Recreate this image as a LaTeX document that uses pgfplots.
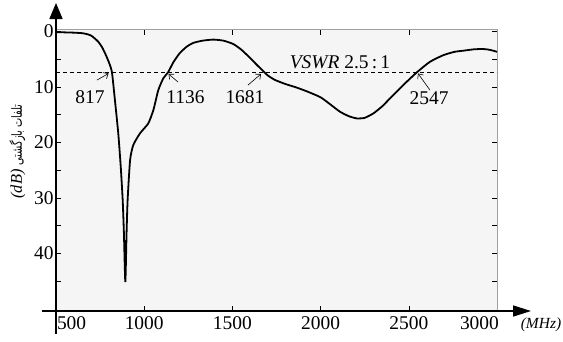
\documentclass[border=0pt]{standalone}
\usepackage{pgfplots}
\pgfplotsset{compat=1.18}
\usepackage{fontspec}
\setmainfont{Liberation Serif}
\newfontfamily\persianfont[Script=Arabic]{DejaVu Sans}
\usetikzlibrary{arrows.meta}
\TeXXeTstate=1
\definecolor{bgc}{HTML}{F5F5F5}
\definecolor{framec}{HTML}{A0A0A0}
\begin{document}
\begin{tikzpicture}[x=1bp,y=1bp]
\begin{axis}[
  at={(56bp,30bp)}, anchor=south west,
  scale only axis, width=441bp, height=281.4bp,
  xmin=500, xmax=3000, ymin=-0.3, ymax=50.4, y dir=reverse,
  axis background/.style={fill=bgc},
  axis line style={draw=framec, line width=0.8bp},
  xtick={500,1000,1500,2000,2500,3000},
  xticklabels={\makebox[0pt][l]{\kern1bp 500},1000,1500,2000,2500,\makebox[0pt][l]{\kern-37bp 3000}},
  ytick={0,10,20,30,40}, minor ytick={5,15,25,35,45},
  tick align=inside, major tick length=5bp, minor tick length=5bp,
  tick style={black, line width=0.5bp},
  ticklabel style={font=\fontsize{19.5}{22}\selectfont},
  xticklabel style={yshift=-2bp},
  yticklabel style={xshift=1bp},
  /pgf/number format/assume math mode=true,
  /pgf/number format/set thousands separator={},
]
\addplot[black, line width=0.6bp, dash pattern=on 4bp off 3bp] coordinates {(500,7.36) (3000,7.36)};
\addplot[black, line width=1.8bp, smooth, tension=0.35] coordinates {
(500,0.15) (550,0.2) (600,0.25) (650,0.35) (680,0.55) (700,0.8) (720,1.3) (740,1.9)
(760,2.8) (780,4.1) (800,5.6) (817,7.36) (834,12.4) (853,18.4) (867,24.4)
(878,30.4) (885,36.4) (893,45.2) (900,36.4) (906,30.4) (920,23.2) (938,20.5)
(976,18.4) (1023,16.6) (1052,14.2) (1080,10.6) (1108,8.5) (1136,7.36) (1165,5.6)
(1200,4.0) (1240,2.8) (1278,2.1) (1330,1.7) (1392,1.5) (1450,1.7) (1505,2.3)
(1550,3.3) (1600,4.8) (1640,6.1) (1681,7.36) (1700,7.95) (1740,8.75) (1800,9.5)
(1860,10.1) (1920,10.8) (2000,11.9) (2060,13.3) (2110,14.5) (2160,15.3) (2205,15.7) (2250,15.6)
(2299,14.8) (2350,13.5) (2393,12.1) (2440,10.6) (2488,9.1) (2547,7.36) (2620,5.5)
(2696,4.3) (2760,3.7) (2809,3.5) (2870,3.25) (2922,3.2) (2960,3.35) (3000,3.7)
};
\node[font=\fontsize{19.5}{22}\selectfont] at (axis cs:693,11.85) {817};
\node[font=\fontsize{19.5}{22}\selectfont] at (axis cs:1234,11.85) {1136};
\node[font=\fontsize{19.5}{22}\selectfont] at (axis cs:1571,11.85) {1681};
\node[font=\fontsize{19.5}{22}\selectfont] at (axis cs:2615,12.0) {2547};
\node[font=\fontsize{19.5}{22}\selectfont] at (axis cs:2110,5.5) {\textit{VSWR} 2.5\,:\,1};
\draw[-{Straight Barb[length=4bp,width=7bp]}, line width=0.6bp] (axis cs:732,8.8) -- (axis cs:798,7.6);
\draw[-{Straight Barb[length=4bp,width=7bp]}, line width=0.6bp] (axis cs:1192,9.15) -- (axis cs:1138,7.7);
\draw[-{Straight Barb[length=4bp,width=7bp]}, line width=0.6bp] (axis cs:1588,9.7) -- (axis cs:1662,7.7);
\draw[-{Straight Barb[length=4bp,width=7bp]}, line width=0.6bp] (axis cs:2620,10.6) -- (axis cs:2552,7.6);
\end{axis}
\draw[line width=1.6bp, -{Triangle[length=18bp,width=11bp]}] (42,30) -- (531,30);
\draw[line width=1.6bp, -{Triangle[length=16bp,width=13bp]}] (56,7) -- (56,338);
\node[rotate=90, font=\fontsize{16.5}{20}\selectfont] at (17.5,189.5) {\textit{(dB)} \scalebox{0.7}[1]{\persianfont\fontsize{14}{17}\selectfont\beginR تلفات بازگشتی\endR}};
\node[font=\fontsize{15.5}{18}\selectfont\itshape] at (541,16) {(MHz)};
\pgfresetboundingbox
\path (0,0) rectangle (563,341);
\end{tikzpicture}
\end{document}
